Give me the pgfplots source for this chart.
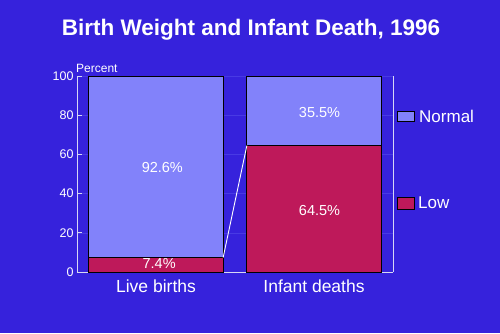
\documentclass[border=0pt]{standalone}
\usepackage{pgfplots}
\pgfplotsset{compat=1.18}
\usepackage{fontspec}
\setmainfont{Liberation Sans}
\definecolor{bg}{RGB}{54,34,220}
\definecolor{normalc}{RGB}{130,130,250}
\definecolor{lowc}{RGB}{190,25,90}
\definecolor{axisc}{RGB}{215,215,245}
\definecolor{gridc}{RGB}{72,58,228}
\begin{document}
\begin{tikzpicture}[x=1pt,y=1pt]
\fill[bg] (-77,-61) rectangle (423,272);
\node[text=white,font=\bfseries\fontsize{22.5}{26}\selectfont] at (174,242) {Birth Weight and Infant Death, 1996};
\pgfplotsset{base/.style={
  at={(0,0)}, anchor=south west, scale only axis,
  width=316pt, height=196pt,
  xmin=-0.5, xmax=1.5, ymin=0, ymax=100,
}}
\begin{axis}[base,
  ybar stacked, bar width=135pt,
  axis x line*=bottom, axis y line*=left,
  axis line style={axisc, line width=0.8pt},
  ymajorgrids, grid style={gridc, line width=0.6pt},
  ytick={0,20,40,60,80,100},
  xtick={0,1}, xticklabels={Live births, Infant deaths},
  major x tick style={draw=none},
  major y tick style={axisc, line width=0.8pt},
  major tick length=5pt, tick align=inside,
  yticklabel style={text=white, font=\fontsize{12.5}{14}\selectfont},
  xticklabel style={text=white, font=\fontsize{17.5}{20}\selectfont, yshift=-4pt},
  /pgf/number format/assume math mode=true,
  ]
\addplot[fill=lowc, draw=black, line width=0.8pt] coordinates {(0,7.4) (1,64.5)};
\addplot[fill=normalc, draw=black, line width=0.8pt] coordinates {(0,92.6) (1,35.5)};
\end{axis}
\begin{axis}[base, hide axis]
\addplot[white, line width=0.9pt] coordinates {(0.425,7.4) (0.575,64.5)};
\node[text=white, font=\fontsize{14.5}{16}\selectfont] at (axis cs:0.04,53.2) {92.6\%};
\node[text=white, font=\fontsize{14.5}{16}\selectfont] at (axis cs:0.02,4.4) {7.4\%};
\node[text=white, font=\fontsize{14.5}{16}\selectfont] at (axis cs:1.035,31.6) {64.5\%};
\node[text=white, font=\fontsize{14.5}{16}\selectfont] at (axis cs:1.035,81.6) {35.5\%};
\end{axis}
\draw[axisc, line width=0.8pt] (316,0) -- (316,196);
\node[anchor=base west, text=white, font=\fontsize{12}{14}\selectfont, inner sep=0pt] at (-1,200) {Percent};
\draw[black, fill=normalc, line width=0.8pt] (320,151) rectangle (337,161);
\node[anchor=west, text=white, font=\fontsize{17}{20}\selectfont, inner sep=0pt] at (342,156) {Normal};
\draw[black, fill=lowc, line width=0.8pt] (320,63) rectangle (337,75);
\node[anchor=west, text=white, font=\fontsize{17}{20}\selectfont, inner sep=0pt] at (341,69) {Low};
\end{tikzpicture}
\end{document}
